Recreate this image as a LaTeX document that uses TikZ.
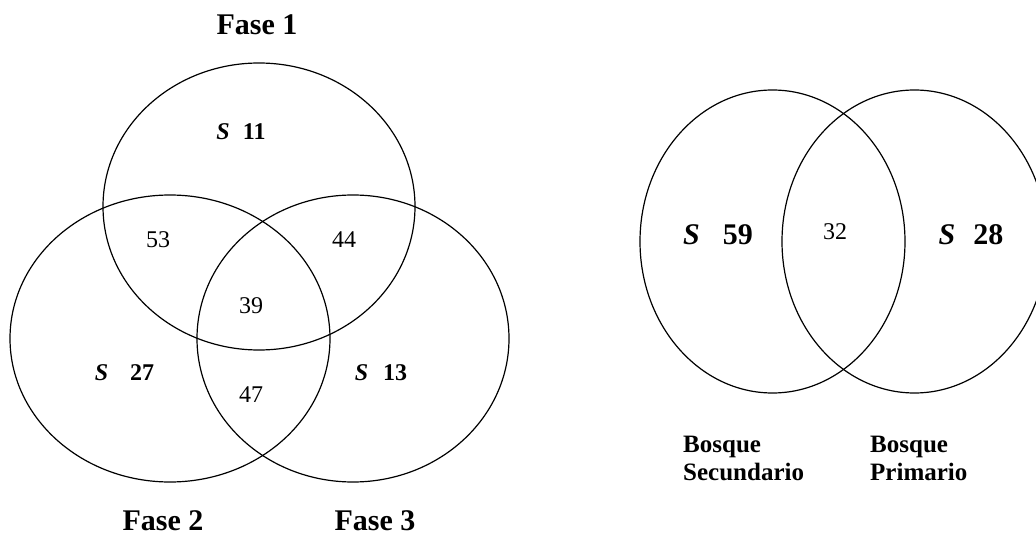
\documentclass[tikz,border=0pt]{standalone}
\usepackage{fontspec}
\setmainfont{Liberation Serif}
\begin{document}
\begin{tikzpicture}[x=1pt,y=-1pt,
  venn/.style={draw=black,line width=1.2pt},
  title/.style={font=\fontsize{30}{34}\selectfont\bfseries,inner sep=0pt},
  num/.style={font=\fontsize{24}{28}\selectfont,inner sep=0pt},
  snum/.style={font=\fontsize{24}{28}\selectfont\bfseries,inner sep=0pt},
  bignum/.style={font=\fontsize{30}{34}\selectfont\bfseries,inner sep=0pt},
  bnum/.style={font=\fontsize{24}{28}\selectfont,inner sep=0pt},
  blabel/.style={font=\fontsize{25}{28}\selectfont\bfseries,inner sep=0pt,anchor=base west}]
\path[use as bounding box] (0,0) rectangle (1036,553);
\clip (0,0) rectangle (1036,553);
% three-set Venn
\draw[venn] (259,206.5) ellipse [x radius=156pt, y radius=143.5pt];
\draw[venn] (170,338.5) ellipse [x radius=160pt, y radius=143.5pt];
\draw[venn] (353,338.5) ellipse [x radius=156pt, y radius=143.5pt];
% two-set Venn
\draw[venn] (772.5,241.5) ellipse [x radius=132.5pt, y radius=151.5pt];
\draw[venn] (914.5,241.5) ellipse [x radius=132.5pt, y radius=151.5pt];
% labels left
\node[title] (f1) at (257,25) {Fase 1};
\node[title] (f2) at (163,521) {Fase 2};
\node[title] (f3) at (375,521) {Fase 3};
\node[snum] (s11) at (241,132) {\textit{S}\hspace{13pt}11};
\node[num] (n53) at (158,240) {53};
\node[num] (n44) at (344,240) {44};
\node[num] (n39) at (251,306) {39};
\node[snum] (s27) at (124.5,373) {\textit{S}\hspace{22pt}27};
\node[num] (n47) at (251,395) {47};
\node[snum] (s13) at (381,373) {\textit{S}\hspace{15pt}13};
% labels right
\node[bignum] (s59) at (718,235) {\textit{S}\hspace{23pt}59};
\node[bnum] (n32) at (835,232) {32};
\node[bignum] (s28) at (971,235) {\textit{S}\hspace{18pt}28};
\node[blabel] (bs1) at (683,452) {Bosque};
\node[blabel] (bs2) at (683,480) {Secundario};
\node[blabel] (bp1) at (870,452) {Bosque};
\node[blabel] (bp2) at (870,480) {Primario};
\end{tikzpicture}
\end{document}
